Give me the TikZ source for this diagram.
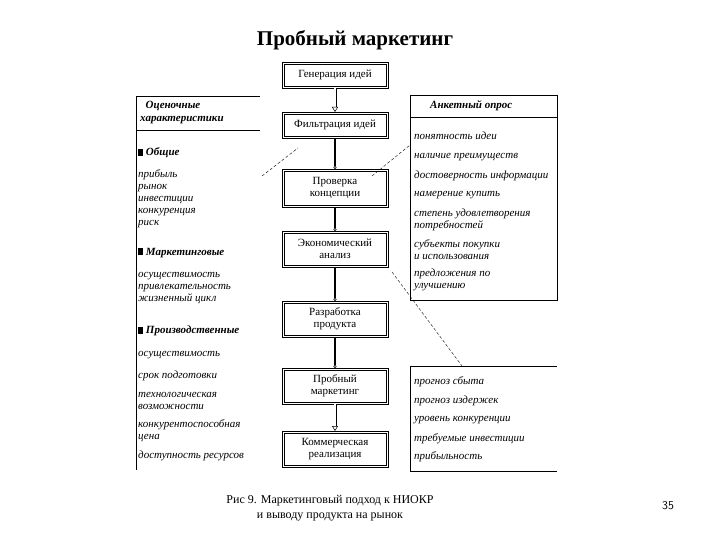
\documentclass[tikz,border=0pt]{standalone}
\usepackage{fontspec}
\setmainfont{Liberation Serif}
\usetikzlibrary{arrows.meta}
\begin{document}
\begin{tikzpicture}[x=1pt,y=-1pt,
  stage/.style={minimum width=106pt,align=center,font=\fontsize{11}{12}\selectfont,inner sep=2pt,outer sep=0pt},
  it/.style={anchor=west,font=\fontsize{11}{12}\selectfont\itshape,align=left,inner sep=0pt},
  hd/.style={anchor=west,font=\fontsize{11}{13}\selectfont\bfseries\itshape,inner sep=0pt},
  arr/.style={line width=1.4pt,-{Circle[open,length=3pt,line width=0.6pt]}},
  harr/.style={double,double distance=2pt,line width=0.5pt,-{Triangle[open,length=5pt,width=6pt]}},
  dsh/.style={densely dashed,line width=0.4pt}]
\useasboundingbox (0,0) rectangle (720,540);
\node[font=\fontsize{21}{24}\selectfont\bfseries] (title) at (355,40) {Пробный маркетинг};
\node[stage,minimum height=26pt] (s1) at (335,75) {Генерация идей};
\node[stage,minimum height=26pt] (s2) at (335,125) {Фильтрация идей};
\node[stage,minimum height=38pt] (s3) at (335,188) {Проверка\\концепции};
\node[stage,minimum height=36pt] (s4) at (335,249) {Экономический\\анализ};
\node[stage,minimum height=36pt] (s5) at (335,319) {Разработка\\продукта};
\node[stage,minimum height=36pt] (s6) at (335,386) {Пробный\\маркетинг};
\node[stage,minimum height=36pt] (s7) at (335,449) {Коммерческая\\реализация};
\foreach \n in {s1,s2,s3,s4,s5,s6,s7}{
  \draw[line width=0.6pt] (\n.south west) rectangle (\n.north east);
  \draw[line width=0.8pt] ([xshift=2pt,yshift=2pt]\n.south west) rectangle ([xshift=-2pt,yshift=-2pt]\n.north east);
}
\draw[harr] (s1) -- (s2);
\draw[arr] (s2) -- (s3);
\draw[arr] (s3) -- (s4);
\draw[arr] (s4) -- (s5);
\draw[arr] (s5) -- (s6);
\draw[harr] (s6) -- (s7);
% left panel
\draw[line width=0.6pt] (136,96) -- (136,470);
\draw[line width=0.6pt] (136,96) -- (260,96);
\draw[line width=0.6pt] (136,130) -- (260,130);
\node[hd,align=left] (lh) at (140,113) {\ \ Оценочные\\характеристики};
\node[hd] (g1) at (138,153) {\rule{5pt}{7pt} Общие};
\node[it] (g1t) at (138,199) {прибыль\\рынок\\инвестиции\\конкуренция\\риск};
\node[hd] (g2) at (138,253) {\rule{5pt}{7pt} Маркетинговые};
\node[it] (g2t) at (138,288) {осуществимость\\привлекательность\\жизненный цикл};
\node[hd] (g3) at (138,331) {\rule{5pt}{7pt} Производственные};
\node[it] (p1) at (138,355) {осуществимость};
\node[it] (p2) at (138,376) {срок подготовки};
\node[it,align=left] (p3) at (138,401) {технологическая\\возможности};
\node[it,align=left] (p4) at (138,431) {конкурентоспособная\\цена};
\node[it] (p5) at (138,456) {доступность ресурсов};
% right top panel
\draw[line width=0.6pt] (410,95) rectangle (557,300);
\draw[line width=0.6pt] (410,117) -- (557,117);
\node[hd] (rh) at (430,106) {Анкетный опрос};
\node[it] (r1) at (414,136) {понятность идеи};
\node[it] (r2) at (414,157) {наличие преимуществ};
\node[it] (r3) at (414,176) {достоверность информации};
\node[it] (r4) at (414,195) {намерение купить};
\node[it] (r5) at (414,220) {степень удовлетворения\\потребностей};
\node[it] (r6) at (414,250) {субъекты покупки\\и использования};
\node[it] (r7) at (414,280) {предложения по\\улучшению};
% right bottom panel
\draw[line width=0.6pt] (557,366) -- (410,366) -- (410,471) -- (557,471);
\node[it] (b1) at (414,382) {прогноз сбыта};
\node[it] (b2) at (414,401) {прогноз издержек};
\node[it] (b3) at (414,420) {уровень конкуренции};
\node[it] (b4) at (414,439) {требуемые инвестиции};
\node[it] (b5) at (414,457) {прибыльность};
% dashed connectors
\coordinate (d1a) at (262,176); \coordinate (d1b) at (298,148);
\coordinate (d2a) at (372,176); \coordinate (d2b) at (410,145);
\coordinate (d3a) at (392,272); \coordinate (d3b) at (462,366);
\draw[dsh] (d1a) -- (d1b);
\draw[dsh] (d2a) -- (d2b);
\draw[dsh] (d3a) -- (d3b);
% caption
\node[font=\fontsize{12}{15}\selectfont,align=center] (cap) at (330,508) {Рис 9. Маркетинговый подход к НИОКР\\и выводу продукта на рынок};
\node[font=\fontsize{12}{12}\selectfont\sffamily] (pg) at (668,506) {35};
\end{tikzpicture}
\end{document}
